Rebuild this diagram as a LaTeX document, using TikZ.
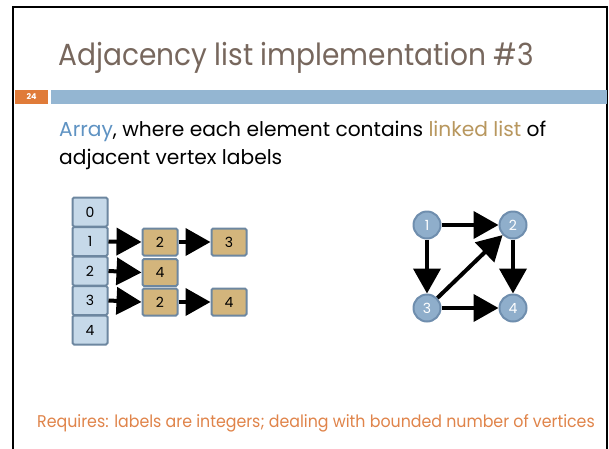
\documentclass[tikz,border=0pt]{standalone}
\usepackage{fontspec}
\setmainfont{Poppins}
\newfontfamily\titlefont[FakeStretch=0.92]{Poppins}
\newfontfamily\reqfont[FakeStretch=0.93]{Poppins}
\usetikzlibrary{arrows.meta}
\definecolor{titlec}{HTML}{77675D}
\definecolor{orangec}{HTML}{E07B39}
\definecolor{reqc}{HTML}{E0844A}
\definecolor{barc}{HTML}{94B6D2}
\definecolor{arrc}{HTML}{5F93C3}
\definecolor{linkc}{HTML}{B8975E}
\definecolor{cellf}{HTML}{C6D9E9}
\definecolor{cellb}{HTML}{6D87A0}
\definecolor{tanf}{HTML}{D3B57C}
\definecolor{gnf}{HTML}{8FAECB}
\definecolor{gnb}{HTML}{6F8EAE}
\tikzset{
  cell/.style={draw=cellb, line width=2pt, fill=cellf, rounded corners=1.5pt, minimum width=35pt, minimum height=29pt, inner sep=0pt, font=\fontsize{14}{14}\selectfont},
  lnode/.style={cell, fill=tanf, minimum height=27pt},
  gnode/.style={circle, draw=gnb, line width=2pt, fill=gnf, minimum size=27pt, inner sep=0pt, text=white, font=\fontsize{14}{14}\selectfont},
  bigarrow/.style={line width=4pt, -{Triangle[length=25pt,width=27pt]}}
}
\begin{document}
\begin{tikzpicture}[x=1pt,y=-1pt]
\useasboundingbox (0,0) rectangle (609,448);
\fill[white] (0,0) rectangle (609,448);
\draw[line width=2.2pt] (13,449) -- (13,7) -- (607,7) -- (607,449);
\node[fill=orangec, minimum width=33pt, minimum height=14pt, inner sep=0pt, text=white, font=\bfseries\fontsize{8}{8}\selectfont] (num) at (31.5,97) {24};
\node[fill=barc, minimum width=556pt, minimum height=14pt, inner sep=0pt, anchor=west] (bar) at (51,97) {};
\node[anchor=base west, inner sep=0pt, text=titlec, font=\titlefont\fontsize{30.5}{30.5}\selectfont] (title) at (58,65) {Adjacency list implementation \#3};
\node[anchor=base west, inner sep=0pt, font=\fontsize{20.2}{20.2}\selectfont] (l1) at (59,136) {\textcolor{arrc}{Array}, where each element contains \textcolor{linkc}{linked list} of};
\node[anchor=base west, inner sep=0pt, font=\fontsize{20.2}{20.2}\selectfont] (l2) at (59,164) {adjacent vertex labels};
% array
\node[cell] (a0) at (90,212) {0};
\node[cell] (a1) at (90,241.5) {1};
\node[cell] (a2) at (90,271) {2};
\node[cell] (a3) at (90,300.5) {3};
\node[cell] (a4) at (90,330) {4};
% lists
\node[lnode] (n12) at (160,242) {2};
\node[lnode] (n13) at (229,242) {3};
\node[lnode] (n24) at (160,272.5) {4};
\node[lnode] (n32) at (160,302) {2};
\node[lnode] (n34) at (229,302) {4};
\draw[bigarrow] (a1.east) -- (n12.west);
\draw[bigarrow] (n12.east) -- (n13.west);
\draw[bigarrow] (a2.east) -- (n24.west);
\draw[bigarrow] (a3.east) -- (n32.west);
\draw[bigarrow] (n32.east) -- (n34.west);
% graph
\node[gnode] (g1) at (427,225) {1};
\node[gnode] (g2) at (513,225) {2};
\node[gnode] (g3) at (427,308) {3};
\node[gnode] (g4) at (513,308) {4};
\draw[bigarrow] (g1) -- (g2);
\draw[bigarrow] (g1) -- (g3);
\draw[bigarrow] (g2) -- (g4);
\draw[bigarrow] (g3) -- (g4);
\draw[bigarrow] (g3) -- (g2);
\node[anchor=base west, inner sep=0pt, text=reqc, font=\reqfont\fontsize{17}{17}\selectfont] (req) at (37,427) {Requires: labels are integers; dealing with bounded number of vertices};
\end{tikzpicture}
\end{document}
